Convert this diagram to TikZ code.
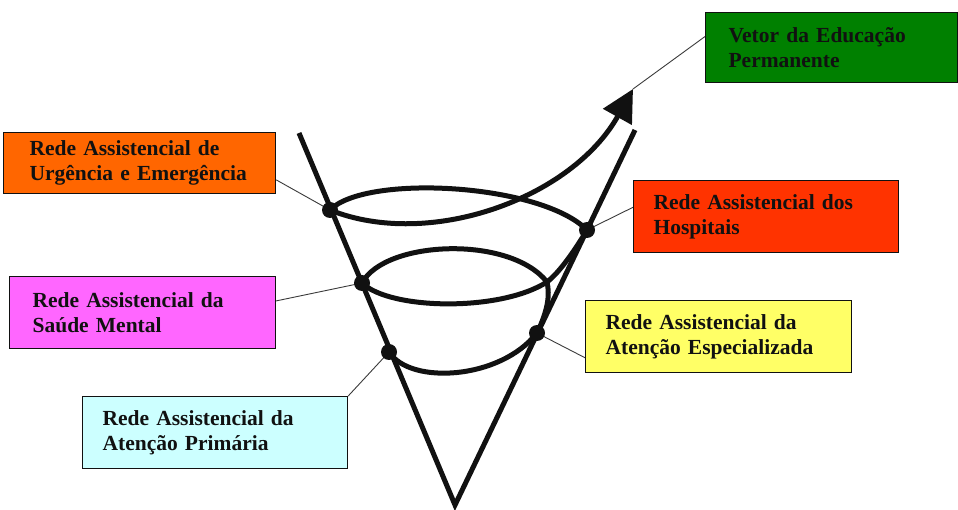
\documentclass[tikz,border=0pt]{standalone}
\usepackage{fontspec}
\setmainfont{Liberation Serif}
\usetikzlibrary{arrows.meta,positioning}
\definecolor{ink}{HTML}{111111}
\definecolor{wire}{HTML}{3A3A3A}
\definecolor{vetorfill}{HTML}{008000}
\definecolor{urgfill}{HTML}{FF6600}
\definecolor{hospfill}{HTML}{FF3300}
\definecolor{mentalfill}{HTML}{FF66FF}
\definecolor{especfill}{HTML}{FFFF66}
\definecolor{primfill}{HTML}{CCFFFF}
\tikzset{
  figbase/.style={x=1pt, y=-1pt},
  netbox/.style={
    draw=ink, line width=1.2pt,
    anchor=north west,
    align=left,
    font=\fontsize{21.5}{25}\bfseries\selectfont,
    text=ink,
    inner ysep=0pt,
  },
  cone/.style={draw=ink, line width=5pt, line join=miter},
  spiral/.style={draw=ink, line width=5pt, line join=round, line cap=round},
  spiralarr/.style={spiral, -{Triangle[length=32pt,width=32pt]}},
  wirelink/.style={draw=wire, line width=0.9pt},
  knot/.style={circle, fill=ink, inner sep=0pt, minimum size=16pt},
}

\begin{document}
\begin{tikzpicture}[figbase]
  \useasboundingbox (0,0) rectangle (958,510);

  % boxes
  \node[netbox, fill=vetorfill, inner xsep=23pt, text width=206pt, minimum height=70pt] (vetor)
    at (705,12) {Vetor da Educação\\Permanente};
  \node[netbox, fill=urgfill, inner xsep=26pt, text width=220pt, minimum height=61pt] (urg)
    at (3,132) {Rede Assistencial de\\Urgência e Emergência};
  \node[netbox, fill=hospfill, inner xsep=20pt, text width=225pt, minimum height=72pt] (hosp)
    at (633,180) {Rede Assistencial dos\\Hospitais};
  \node[netbox, fill=mentalfill, inner xsep=23pt, text width=220pt, minimum height=72pt] (mental)
    at (9,276) {Rede Assistencial da\\Saúde Mental};
  \node[netbox, fill=especfill, inner xsep=20pt, text width=226pt, minimum height=72pt] (espec)
    at (585,300) {Rede Assistencial da\\Atenção Especializada};
  \node[netbox, fill=primfill, inner xsep=20pt, text width=225pt, minimum height=72pt] (prim)
    at (82,396) {Rede Assistencial da\\Atenção Primária};

  % cone and spiral points
  \coordinate (ltop) at (299,133);
  \coordinate (apex) at (455,505);
  \coordinate (rtop) at (635,130);
  \coordinate (k1) at (330,210);
  \coordinate (k2) at (587,230);
  \coordinate (k3) at (362,283);
  \coordinate (k4) at (537,333);
  \coordinate (k5) at (389,352);
  \coordinate (p2r) at (547,282);
  \coordinate (tip) at (633,89);

  % connectors
  \draw[wirelink] (tip) -- (vetor.175);
  \draw[wirelink] (urg.-7) -- (k1);
  \draw[wirelink] (k2) -- (hosp.176);
  \draw[wirelink] (mental.5) -- (k3);
  \draw[wirelink] (prim.north east) -- (k5);
  \draw[wirelink] (k4) -- (espec.189);

  \draw[cone] (ltop) -- (apex) -- (rtop);

  \draw[spiral] (k5) .. controls (410,385) and (500,380) .. (k4)
    .. controls (548,310) and (550,295) .. (p2r)
    .. controls (500,312) and (390,310) .. (k3)
    .. controls (385,240) and (510,235) .. (p2r)
    .. controls (560,272) and (575,250) .. (k2)
    .. controls (540,183) and (365,174) .. (k1);
  \draw[spiralarr] (k1) .. controls (430,250) and (572,198) .. (tip);

  \foreach \k in {1,...,5}
    \node[knot] (n\k) at (k\k) {};
\end{tikzpicture}
\end{document}
